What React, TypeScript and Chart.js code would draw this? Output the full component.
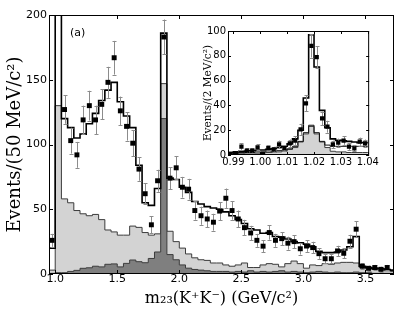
import React, { useEffect, useRef } from "react";
import { Chart, registerables } from "chart.js";

Chart.register(...registerables);

// ---------- Main plot: 50 MeV bins ----------
const MAIN_EDGES = [
  0.95, 1.0, 1.05, 1.1, 1.15, 1.2, 1.25, 1.3, 1.35, 1.4, 1.45, 1.5, 1.55, 1.6, 1.65,
  1.7, 1.75, 1.8, 1.85, 1.9, 1.95, 2.0, 2.05, 2.1, 2.15, 2.2, 2.25, 2.3, 2.35, 2.4,
  2.45, 2.5, 2.55, 2.6, 2.65, 2.7, 2.75, 2.8, 2.85, 2.9, 2.95, 3.0, 3.05, 3.1, 3.15,
  3.2, 3.25, 3.3, 3.35, 3.4, 3.45, 3.5, 3.55, 3.6, 3.65, 3.7, 3.75,
];
// total fit (black step line)
const MAIN_FIT = [
  20, 300, 120, 113, 105, 108, 116, 124, 134, 142,
  148, 133, 122, 113, 84, 55, 53, 66, 186, 74,
  73, 67, 63, 56, 54, 52, 51, 50, 48, 45,
  42, 39, 35, 34, 31.5, 32, 29, 28.5, 27, 25,
  24, 23, 21, 17.5, 16.5, 16.5, 17, 18.5, 21, 29,
  6, 5, 4.5, 4, 3.5, 3,
];
// light grey component
const MAIN_BKG = [
  3, 130, 58, 55, 49, 46.5, 45, 46, 42, 34,
  32.5, 30, 30, 37, 36, 32, 30, 31, 147, 33,
  25, 20, 15.5, 12.5, 11, 10.5, 8.5, 8.5, 7, 6,
  7, 8.5, 5, 5, 7, 8, 7.5, 5.5, 8, 10,
  8, 4.5, 7, 6.5, 8, 7.5, 8.5, 9, 9, 8.5,
  5, 4, 3.5, 3, 2.5, 2,
];
// dark grey component
const MAIN_PEAK = [
  0.5, 1, 1, 2, 2.8, 4.4, 4.8, 6, 5.5, 7.5,
  7.8, 5.5, 8.2, 10.8, 9.5, 8.7, 12, 17, 120, 15,
  11, 7, 4.5, 3.5, 3, 2.5, 2, 2, 2, 1.5,
  2, 1.5, 2.5, 1.5, 2, 1.5, 2, 2.5, 1.5, 2,
  1.5, 1, 1.5, 2, 1.5, 1, 1.5, 1, 1, 1.5,
  1, 1, 0.5, 0.5, 0.5, 0.5,
];
// data points and errors
const MAIN_DATA = [
  26, null, 127, 103, 92, 119, 130, 119, 131, 148,
  167, 126, 114, 101, 81, 62, 38, 72, 183, 74,
  82, 67, 65.5, 49, 45, 42.5, 40, 48.6, 58.5, 49,
  42.5, 35.8, 31.7, 26, 21.5, 32, 26, 27.3, 23.8, 25,
  19.5, 21.6, 20.4, 15.7, 11.8, 11.8, 17.8, 16, 25.3, 34.6,
  6, 4.4, 5, 3.6, 5, null,
];
const MAIN_ERR = [
  5, null, 11, 10, 10, 11, 11.5, 11, 11.5, 12,
  13, 11, 11, 10, 9, 8, 6.5, 8.5, 13.5, 8.5,
  9, 8, 8, 7, 7, 6.5, 6.5, 7, 7.5, 7,
  6.5, 6, 5.5, 5, 4.5, 5.5, 5, 5, 5, 5,
  4.5, 4.5, 4.5, 4, 3.5, 3.5, 4, 4, 5, 6,
  2.5, 2, 2, 2, 2, null,
];
const MAIN_X_TICKS = [1.0, 1.5, 2.0, 2.5, 3.0, 3.5];
const MAIN_Y_TICKS = [0, 50, 100, 150, 200];

// ---------- Inset: 2 MeV bins ----------
const INSET_EDGES = [
  0.988, 0.99, 0.992, 0.994, 0.996, 0.998, 1.0, 1.002, 1.004, 1.006, 1.008, 1.01,
  1.012, 1.014, 1.016, 1.018, 1.02, 1.022, 1.024, 1.026, 1.028, 1.03, 1.032, 1.034,
  1.036, 1.038, 1.04,
];
const INSET_FIT = [2, 2.5, 3, 3.2, 3.5, 3.8, 4, 4.5, 5, 6, 7, 9, 13, 20, 46, 97, 71, 36, 22, 13, 12, 11.5, 11, 10.5, 10, 10];
const INSET_NONRES = [1.5, 1.5, 2, 2, 2, 2.5, 2.5, 3, 3, 3.5, 4, 5, 7, 11, 18, 24, 18, 11, 8, 7, 7, 7, 7, 7, 7, 7];
const INSET_BKG = [1, 1, 1, 1.5, 1.5, 1.5, 2, 2, 2, 2.5, 3, 4.5, 6, 10.5, 17, 23, 17, 10.5, 6, 3, 2.5, 2.5, 2, 2, 2, 2];
const INSET_DATA = [1, 1.6, 6.7, 3.5, 3.5, 6.2, 1, 5.6, 4.5, 8.6, 5.6, 9.4, 11.6, 20.7, 41.6, 88, 79, 29.6, 22.8, 8.6, 10, 11.6, 6.7, 5.4, 10.7, 9.4];
const INSET_ERR = [1, 1.3, 2.6, 2, 2, 2.5, 1, 2.4, 2.1, 3, 2.4, 3.1, 3.4, 4.5, 6.5, 9.4, 8.9, 5.4, 4.8, 3, 3.2, 3.4, 2.6, 2.3, 3.3, 3.1];
const INSET_X_TICKS = [0.99, 1.0, 1.01, 1.02, 1.03, 1.04];
const INSET_Y_TICKS = [0, 20, 40, 60, 80, 100];

// ---------- helpers ----------
function stepPoints(edges: number[], values: number[]) {
  const pts = values.map((v, i) => ({ x: edges[i], y: v }));
  pts.push({ x: edges[edges.length - 1], y: values[values.length - 1] });
  return pts;
}
function dataPoints(edges: number[], values: (number | null)[], errs: (number | null)[]) {
  const pts: { x: number; y: number }[] = [];
  const e: number[] = [];
  values.forEach((v, i) => {
    if (v == null) return;
    pts.push({ x: (edges[i] + edges[i + 1]) / 2, y: v });
    e.push(errs[i] as number);
  });
  return { pts, e };
}

const errorBarPlugin = {
  id: "errorBars",
  beforeDatasetDraw(chart: any, args: any, opts: any) {
    const ds = chart.data.datasets[args.index];
    if (!ds.errors) return;
    const ys = chart.scales.y;
    const { ctx, chartArea } = chart;
    const cap = opts.cap ?? 2;
    ctx.save();
    ctx.beginPath();
    ctx.rect(chartArea.left, chartArea.top, chartArea.right - chartArea.left, chartArea.bottom - chartArea.top);
    ctx.clip();
    ctx.strokeStyle = "#8c8c8c";
    ctx.lineWidth = 1;
    ctx.beginPath();
    args.meta.data.forEach((el: any, i: number) => {
      const d = ds.data[i];
      const err = ds.errors[i];
      const x = Math.round(el.x) + 0.5;
      const yt = ys.getPixelForValue(d.y + err);
      const yb = ys.getPixelForValue(Math.max(d.y - err, 0));
      ctx.moveTo(x, yt);
      ctx.lineTo(x, yb);
      ctx.moveTo(x - cap, Math.round(yt) + 0.5);
      ctx.lineTo(x + cap, Math.round(yt) + 0.5);
      ctx.moveTo(x - cap, Math.round(yb) + 0.5);
      ctx.lineTo(x + cap, Math.round(yb) + 0.5);
    });
    ctx.stroke();
    ctx.restore();
  },
};

const frameTicksPlugin = {
  id: "frameTicks",
  beforeDraw(chart: any, _a: any, opts: any) {
    if (!opts.bg) return;
    const { ctx, chartArea } = chart;
    ctx.save();
    ctx.fillStyle = opts.bg;
    ctx.fillRect(chartArea.left, chartArea.top, chartArea.right - chartArea.left, chartArea.bottom - chartArea.top);
    ctx.restore();
  },
  afterDatasetsDraw(chart: any, _a: any, opts: any) {
    const { ctx, chartArea } = chart;
    const { left, right, top, bottom } = chartArea;
    const len = opts.len ?? 4;
    const xs = chart.scales.x;
    const ys = chart.scales.y;
    ctx.save();
    ctx.strokeStyle = "#000";
    ctx.lineWidth = 1;
    ctx.beginPath();
    xs.ticks.forEach((t: any) => {
      const px = Math.round(xs.getPixelForValue(t.value)) + 0.5;
      ctx.moveTo(px, bottom);
      ctx.lineTo(px, bottom - len);
      ctx.moveTo(px, top);
      ctx.lineTo(px, top + len);
    });
    ys.ticks.forEach((t: any) => {
      const py = Math.round(ys.getPixelForValue(t.value)) + 0.5;
      ctx.moveTo(left, py);
      ctx.lineTo(left + len, py);
      ctx.moveTo(right, py);
      ctx.lineTo(right - len, py);
    });
    ctx.stroke();
    ctx.strokeRect(left + 0.5, top + 0.5, right - left - 1, bottom - top - 1);
    if (opts.label) {
      ctx.fillStyle = "#000";
      ctx.font = "11px 'DejaVu Sans'";
      ctx.textBaseline = "middle";
      ctx.textAlign = "left";
      ctx.fillText(opts.label, left + 21, top + 18);
    }
    ctx.restore();
  },
};

type Spec = {
  edges: number[];
  fit: number[];
  extra?: number[];
  bkg: number[];
  peak?: number[];
  data: (number | null)[];
  errs: (number | null)[];
  xMin: number;
  xMax: number;
  yMax: number;
  xTicks: number[];
  yTicks: number[];
  xDecimals: number;
  yTitle: string;
  xTitle?: string;
  yAxisWidth: number;
  xAxisHeight: number;
  padTop: number;
  padRight: number;
  tickFont: number;
  xTickPad: number;
  yTitleFont: number;
  yTitlePad: number;
  xTitleFont?: number;
  xTitlePad?: number;
  pointRadius: number;
  label?: string;
  bg?: string;
  tickLen: number;
};

function buildConfig(s: Spec): any {
  const { pts, e } = dataPoints(s.edges, s.data, s.errs);
  const datasets: any[] = [
    {
      label: "data",
      data: pts,
      errors: e,
      showLine: false,
      pointStyle: "rect",
      pointRadius: s.pointRadius,
      pointBackgroundColor: "#000",
      pointBorderColor: "#000",
      pointBorderWidth: 0,
      order: 0,
    },
    {
      label: "fit",
      data: stepPoints(s.edges, s.fit),
      stepped: "before",
      borderColor: "#000",
      borderWidth: 1.6,
      pointRadius: 0,
      fill: false,
      order: 1,
    },
  ];
  if (s.extra) {
    datasets.push({
      label: "non-resonant",
      data: stepPoints(s.edges, s.extra),
      stepped: "before",
      borderColor: "#111",
      borderWidth: 1,
      pointRadius: 0,
      fill: false,
      order: 2,
    });
  }
  if (s.peak) {
    datasets.push({
      label: "peak",
      data: stepPoints(s.edges, s.peak),
      stepped: "before",
      borderColor: "#3c3c3c",
      borderWidth: 1,
      backgroundColor: "#7f7f7f",
      pointRadius: 0,
      fill: "origin",
      order: 3,
    });
  }
  datasets.push({
    label: "background",
    data: stepPoints(s.edges, s.bkg),
    stepped: "before",
    borderColor: "#3c3c3c",
    borderWidth: 1,
    backgroundColor: "#d3d3d3",
    pointRadius: 0,
    fill: "origin",
    order: 4,
  });

  const tickFont = { family: "'DejaVu Sans'", size: s.tickFont };
  return {
    type: "line",
    data: { datasets },
    options: {
      animation: false,
      responsive: false,
      events: [],
      layout: { padding: { top: s.padTop, right: s.padRight, left: 0, bottom: 0 } },
      plugins: {
        legend: { display: false },
        tooltip: { enabled: false },
        errorBars: { cap: 2 },
        frameTicks: { len: s.tickLen, label: s.label, bg: s.bg },
      },
      scales: {
        x: {
          type: "linear",
          min: s.xMin,
          max: s.xMax,
          grid: { display: false, drawTicks: false },
          border: { display: false },
          afterBuildTicks: (scale: any) => {
            scale.ticks = s.xTicks.map((v) => ({ value: v }));
          },
          afterFit: (scale: any) => {
            scale.height = s.xAxisHeight;
          },
          ticks: {
            font: tickFont,
            color: "#000",
            padding: s.xTickPad,
            maxRotation: 0,
            autoSkip: false,
            callback: (v: number) => Number(v).toFixed(s.xDecimals),
          },
          title: s.xTitle
            ? {
                display: true,
                text: s.xTitle,
                color: "#000",
                font: { family: "'DejaVu Serif'", size: s.xTitleFont },
                padding: { top: 0, bottom: s.xTitlePad },
              }
            : { display: false },
        },
        y: {
          type: "linear",
          min: 0,
          max: s.yMax,
          grid: { display: false, drawTicks: false },
          border: { display: false },
          afterBuildTicks: (scale: any) => {
            scale.ticks = s.yTicks.map((v) => ({ value: v }));
          },
          afterFit: (scale: any) => {
            scale.width = s.yAxisWidth;
          },
          ticks: {
            font: tickFont,
            color: "#000",
            padding: 2,
            autoSkip: false,
          },
          title: {
            display: true,
            text: s.yTitle,
            color: "#000",
            font: { family: "'DejaVu Serif'", size: s.yTitleFont },
            padding: { top: s.yTitlePad, bottom: 0 },
          },
        },
      },
    },
    plugins: [errorBarPlugin, frameTicksPlugin],
  };
}

export default function App() {
  const mainRef = useRef<HTMLCanvasElement>(null);
  const insetRef = useRef<HTMLCanvasElement>(null);

  useEffect(() => {
    const main = new Chart(
      mainRef.current as HTMLCanvasElement,
      buildConfig({
        edges: MAIN_EDGES,
        fit: MAIN_FIT,
        bkg: MAIN_BKG,
        peak: MAIN_PEAK,
        data: MAIN_DATA,
        errs: MAIN_ERR,
        xMin: 0.95,
        xMax: 3.73,
        yMax: 200,
        xTicks: MAIN_X_TICKS,
        yTicks: MAIN_Y_TICKS,
        xDecimals: 1,
        yTitle: "Events/(50 MeV/c\u00B2)",
        xTitle: "m\u2082\u2083(K\u207AK\u207B) (GeV/c\u00B2)",
        yAxisWidth: 49,
        xAxisHeight: 38,
        padTop: 15,
        padRight: 21,
        tickFont: 11,
        xTickPad: -1,
        yTitleFont: 18,
        yTitlePad: 5,
        xTitleFont: 16,
        xTitlePad: 4,
        pointRadius: 3.5,
        label: "(a)",
        tickLen: 4,
      })
    );
    const inset = new Chart(
      insetRef.current as HTMLCanvasElement,
      buildConfig({
        edges: INSET_EDGES,
        fit: INSET_FIT,
        extra: INSET_NONRES,
        bkg: INSET_BKG,
        data: INSET_DATA,
        errs: INSET_ERR,
        xMin: 0.988,
        xMax: 1.0405,
        yMax: 100,
        xTicks: INSET_X_TICKS,
        yTicks: INSET_Y_TICKS,
        xDecimals: 2,
        yTitle: "Events/(2 MeV/c\u00B2)",
        yAxisWidth: 33,
        xAxisHeight: 17,
        padTop: 9,
        padRight: 7,
        tickFont: 10,
        xTickPad: 1,
        yTitleFont: 10.5,
        yTitlePad: 6.5,
        pointRadius: 3,
        bg: "#fff",
        tickLen: 3,
      })
    );
    return () => {
      main.destroy();
      inset.destroy();
    };
  }, []);

  return (
    <div style={{ position: "absolute", left: 0, top: 0, width: 415, height: 312, background: "#fff" }}>
      <canvas ref={mainRef} width={415} height={312} style={{ position: "absolute", left: 0, top: 0, display: "block" }} />
      <canvas ref={insetRef} width={185} height={150} style={{ position: "absolute", left: 195, top: 22, display: "block" }} />
    </div>
  );
}
